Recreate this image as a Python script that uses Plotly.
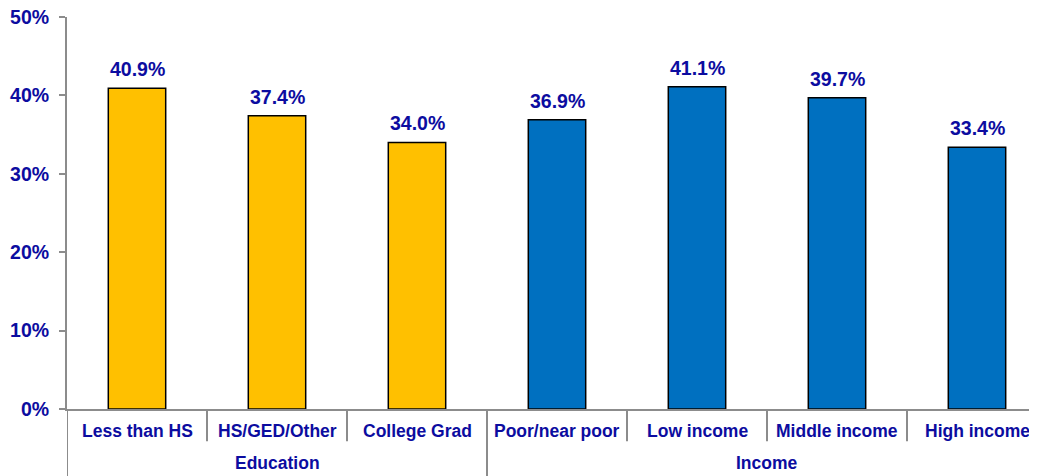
import plotly.graph_objects as go

groups = ["Education", "Education", "Education", "Income", "Income", "Income", "Income"]
categories = ["Less than HS", "HS/GED/Other", "College Grad", "Poor/near poor",
              "Low income", "Middle income", "High income"]
values = [40.9, 37.4, 34.0, 36.9, 41.1, 39.7, 33.4]
colors = ["#FFC000", "#FFC000", "#FFC000", "#0070C0", "#0070C0", "#0070C0", "#0070C0"]
y_ticks = [0, 10, 20, 30, 40, 50]
y_ticktext = ["0%", "10%", "20%", "30%", "40%", "50%"]

txt_color = "#0C0CA0"
axis_color = "#8C8C8C"
font_family = "Liberation Sans, Arial, sans-serif"
n = len(categories)

fig = go.Figure(go.Bar(
    x=list(range(n)),
    y=values,
    marker=dict(color=colors, line=dict(color="black", width=1.5)),
    width=0.41,
))

# value labels above bars
for i, v in enumerate(values):
    fig.add_annotation(
        x=i, y=v, text=f"{v:.1f}%", showarrow=False,
        xref="x", yref="y", yanchor="bottom", yshift=6,
        font=dict(size=19.5, color=txt_color, family=font_family, weight="bold"),
    )

# category labels
for i, c in enumerate(categories):
    fig.add_annotation(
        x=i, y=0, text=c, showarrow=False, xref="x", yref="paper",
        yanchor="middle", yshift=-22,
        font=dict(size=17.5, color=txt_color, family=font_family, weight="bold"),
    )

# group labels and dividers
group_names = []
for g in groups:
    if g not in group_names:
        group_names.append(g)
for g in group_names:
    idx = [i for i, gg in enumerate(groups) if gg == g]
    fig.add_annotation(
        x=(idx[0] + idx[-1]) / 2, y=0, text=g, showarrow=False,
        xref="x", yref="paper", yanchor="middle", yshift=-54,
        font=dict(size=17.5, color=txt_color, family=font_family, weight="bold"),
    )
    fig.add_shape(type="line", xref="x", yref="paper",
                  x0=idx[0] - 0.5, x1=idx[0] - 0.5, y0=0, y1=-0.175,
                  line=dict(color=axis_color, width=2))

# short ticks between categories within groups
for i in range(1, n):
    if groups[i] == groups[i - 1]:
        fig.add_shape(type="line", xref="x", yref="paper",
                      x0=i - 0.5, x1=i - 0.5, y0=0, y1=-0.082,
                      line=dict(color=axis_color, width=2))

# page body has an 8px default margin; compensate so the plot sits where the reference does
fig.update_layout(
    width=1039, height=468,
    margin=dict(l=59, r=0, t=9, b=67),
    plot_bgcolor="white", paper_bgcolor="white",
    showlegend=False,
    font=dict(family=font_family, color=txt_color),
)
fig.update_yaxes(
    range=[0, 50], tickvals=y_ticks, ticktext=y_ticktext,
    showgrid=False, showline=True, linecolor=axis_color, linewidth=2,
    ticks="outside", ticklen=6, tickcolor=axis_color, tickwidth=2,
    tickfont=dict(size=19.5, color=txt_color, family=font_family, weight="bold"),
    zeroline=False, automargin=False, ticklabelstandoff=6,
    ticklabeloverflow="allow",
)
fig.update_xaxes(
    range=[-0.5, n - 0.5], showticklabels=False,
    showline=True, linecolor=axis_color, linewidth=2,
    ticks="", showgrid=False, zeroline=False, automargin=False,
)

fig.write_html("out.html")
